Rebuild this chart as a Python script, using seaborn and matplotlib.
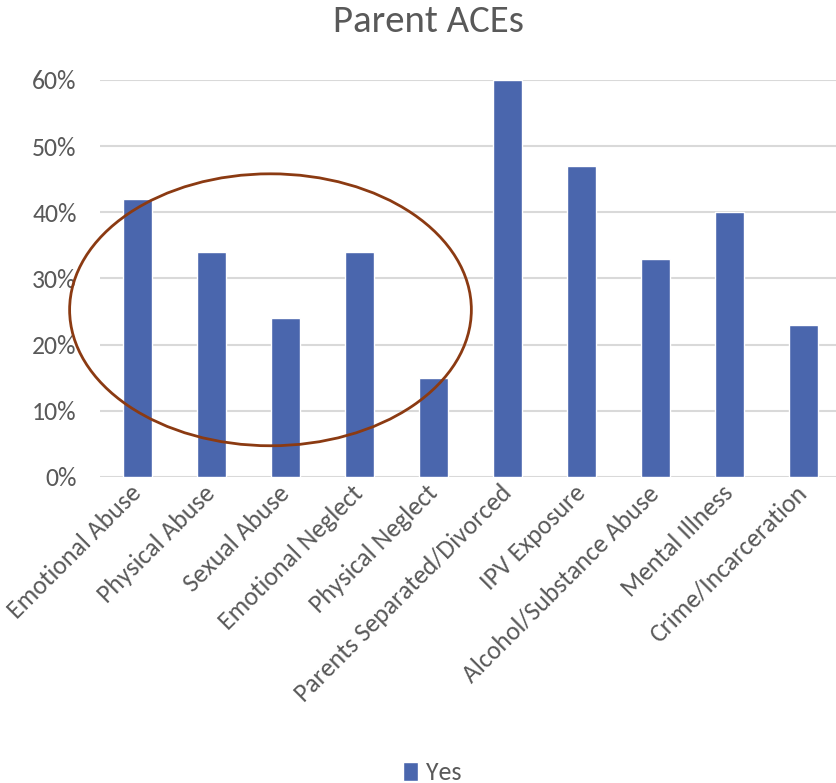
import numpy as np
import pandas as pd
import seaborn as sns
import matplotlib.pyplot as plt
from matplotlib.patches import Ellipse
from matplotlib.ticker import PercentFormatter

# data
categories = ['Emotional Abuse', 'Physical Abuse', 'Sexual Abuse', 'Emotional Neglect',
              'Physical Neglect', 'Parents Separated/Divorced', 'IPV Exposure',
              'Alcohol/Substance Abuse', 'Mental Illness', 'Crime/Incarceration']
values = [0.42, 0.34, 0.24, 0.34, 0.15, 0.60, 0.47, 0.33, 0.40, 0.23]
series = ['Yes'] * len(categories)
yticks = [0, 0.1, 0.2, 0.3, 0.4, 0.5, 0.6]

bar_color = '#4a66ad'
text_color = '#595959'
grid_color = '#d9d9d9'

sns.set_style('white')
plt.rcParams['font.family'] = ['Carlito', 'Lato', 'DejaVu Sans']

df = pd.DataFrame({'category': categories, 'value': values, 'series': series})

fig = plt.figure(figsize=(8.36, 7.83), dpi=100)
ax = fig.add_axes([0.120, 0.391, 0.885, 0.507])

sns.barplot(data=df, x='category', y='value', hue='series',
            palette={'Yes': bar_color}, width=0.39, saturation=1,
            ax=ax)

ax.set_ylim(0, 0.6)
ax.set_yticks(yticks)
ax.yaxis.set_major_formatter(PercentFormatter(1.0, decimals=0))
ax.grid(axis='y', color=grid_color, linewidth=1.5)
ax.set_axisbelow(True)
for s in ax.spines.values():
    s.set_visible(False)
ax.set_xlabel('')
ax.set_ylabel('')
ax.tick_params(axis='y', length=0, pad=17, labelsize=18.5, labelcolor=text_color)
ax.tick_params(axis='x', length=0, pad=9, labelsize=18.5, labelcolor=text_color)
for lab in ax.get_xticklabels():
    lab.set_rotation(45)
    lab.set_ha('right')
    lab.set_va('center')
    lab.set_rotation_mode('anchor')

# highlight circle around the child-level items
ax.add_patch(Ellipse((1.80, 0.2525), 5.43, 0.411, fill=False,
                     edgecolor='#8b3a12', linewidth=2, clip_on=False, zorder=5))

fig.text(0.512, 0.972, 'Parent ACEs', ha='center', va='center',
         fontsize=28, color=text_color)

sns.move_legend(ax, 'center', bbox_to_anchor=(0.517, 0.013),
                bbox_transform=fig.transFigure, title=None, frameon=False,
                fontsize=18.5, handlelength=0.6, handleheight=0.8,
                handletextpad=0.3, labelcolor=text_color)

fig.savefig('out.png', dpi=100)
